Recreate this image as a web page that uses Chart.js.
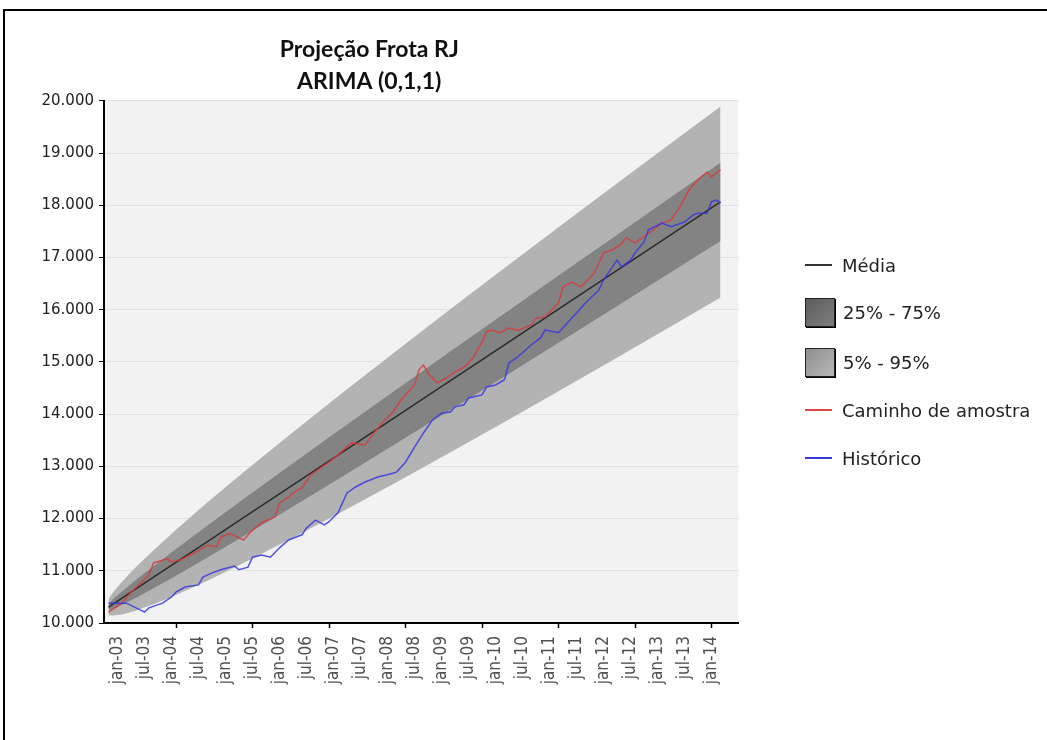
<!DOCTYPE html>
<html lang="pt-BR">
<head>
<meta charset="utf-8">
<title>Projeção Frota RJ</title>
<script src="https://cdn.jsdelivr.net/npm/chart.js@4.4.1/dist/chart.umd.min.js"></script>
<style>
  html, body { margin: 0; padding: 0; background: #fff; }
  body { width: 1047px; height: 740px; position: relative; overflow: hidden; }
  #frame { position: absolute; left: 3px; top: 9px; width: 1100px; height: 800px; border: 2px solid #000; }
  #chart { position: absolute; left: 0; top: 0; }
  #legend { position: absolute; left: 805px; top: 0; font-family: "DejaVu Sans", Verdana, sans-serif; font-size: 18px; color: #222; }
  .item { position: absolute; left: 0; height: 30px; display: flex; align-items: center; white-space: nowrap; }
  .mark-line { width: 27px; height: 2px; margin-right: 10px; }
  .mark-box { width: 28px; height: 27px; border: 1px solid #222; box-shadow: 1px 1px 0 #000; margin-right: 8px; }
</style>
</head>
<body>
<div id="frame"></div>
<canvas id="chart" width="806" height="740"></canvas>
<div id="legend"></div>

<script>
// months are counted from oct-02 (0 = oct-02, 3 = jan-03, 135 = jan-14)
const tickLabels = ["jan-03", "jul-03", "jan-04", "jul-04", "jan-05", "jul-05", "jan-06", "jul-06",
  "jan-07", "jul-07", "jan-08", "jul-08", "jan-09", "jul-09", "jan-10", "jul-10",
  "jan-11", "jul-11", "jan-12", "jul-12", "jan-13", "jul-13", "jan-14"];
const tickMarkMonths = [16, 33, 50, 67, 84, 101, 118, 135];

// forecast fan (percentiles)
const fanMonths = [1, 2, 4, 7, 11, 16, 23, 31, 41, 53, 65, 77, 89, 101, 113, 125, 137];
const mean = [10306, 10363, 10477, 10648, 10877, 11162, 11561, 12018, 12588, 13273, 13957, 14642, 15326, 16011, 16695, 17380, 18065];
const p25 = [10242, 10273, 10349, 10479, 10665, 10906, 11254, 11661, 12178, 12807, 13441, 14080, 14722, 15367, 16014, 16664, 17315];
const p75 = [10370, 10453, 10605, 10817, 11089, 11418, 11868, 12375, 12998, 13739, 14473, 15204, 15930, 16655, 17376, 18096, 18815];
const p05 = [10150, 10142, 10164, 10234, 10359, 10537, 10811, 11148, 11588, 12135, 12697, 13270, 13852, 14440, 15034, 15633, 16236];
const p95 = [10462, 10584, 10790, 11062, 11395, 11787, 12311, 12888, 13588, 14411, 15217, 16014, 16800, 17582, 18356, 19127, 19894];

// sample path (red)
const pathMonths = [1, 4, 6, 10, 11, 14, 15, 17, 20, 23, 25, 26, 28, 30, 31, 33, 35, 38, 39, 41, 42, 44, 46, 50,
  52, 55, 58, 60, 62, 64, 66, 69, 70, 71, 72, 74, 76, 78, 80, 82, 84, 85, 86, 88, 90, 92, 95, 96, 98,
  101, 102, 104, 106, 109, 111, 113, 115, 116, 118, 120, 122, 124, 126, 128, 130, 132, 134, 135, 136, 137];
const pathValues = [10210, 10380, 10590, 10920, 11150, 11230, 11170, 11210, 11340, 11490, 11460, 11650, 11720, 11630, 11590, 11780, 11920, 12030, 12300, 12410, 12490, 12590, 12840, 13080,
  13220, 13450, 13410, 13640, 13850, 14020, 14270, 14560, 14850, 14940, 14790, 14600, 14690, 14810, 14900, 15080, 15380, 15580, 15610, 15560, 15650, 15610, 15710, 15840, 15860,
  16130, 16440, 16530, 16440, 16710, 17090, 17150, 17260, 17380, 17280, 17400, 17530, 17660, 17720, 17970, 18300, 18490, 18640, 18540, 18620, 18680];

// historical (blue)
const histMonths = [1, 5, 8, 9, 10, 13, 15, 16, 18, 21, 22, 24, 26, 29, 30, 32, 33, 35, 37, 39, 41, 44, 45, 47, 49, 50,
  52, 54, 56, 58, 61, 63, 65, 67, 69, 71, 73, 75, 77, 78, 80, 81, 84, 85, 87, 89, 90, 92, 95, 97, 98,
  101, 103, 105, 107, 110, 111, 114, 115, 117, 118, 120, 121, 124, 126, 129, 131, 132, 134, 135, 136, 137];
const histValues = [10380, 10380, 10250, 10210, 10290, 10380, 10500, 10590, 10690, 10730, 10880, 10960, 11020, 11090, 11020, 11070, 11260, 11300, 11260, 11440, 11590, 11690, 11820, 11970, 11880, 11940,
  12110, 12490, 12610, 12700, 12800, 12840, 12890, 13080, 13370, 13640, 13890, 14020, 14040, 14140, 14180, 14310, 14370, 14520, 14560, 14660, 14980, 15100, 15330, 15460, 15610,
  15560, 15750, 15940, 16130, 16380, 16570, 16950, 16820, 16950, 17090, 17300, 17530, 17660, 17590, 17680, 17820, 17850, 17850, 18070, 18100, 18050];

const legendNames = ["Média", "25% - 75%", "5% - 95%", "Caminho de amostra", "Histórico"];

function toPoints(xs, ys) {
  return xs.map((x, i) => ({ x: x, y: ys[i] }));
}

function formatThousands(v) {
  return String(v).replace(/\B(?=(\d{3})+(?!\d))/g, ".");
}

// light grey plot area like the original
const plotBackground = {
  id: "plotBackground",
  beforeDraw(chart) {
    const { ctx, chartArea } = chart;
    ctx.save();
    ctx.fillStyle = "#f2f2f2";
    ctx.fillRect(chartArea.left, chartArea.top, chartArea.right - chartArea.left, chartArea.bottom - chartArea.top);
    ctx.restore();
  }
};

function buildLegend() {
  const target = document.querySelector("#legend");
  const centers = [265, 312, 362, 410, 458];
  const marks = [
    '<span class="mark-line" style="background:#333"></span>',
    '<span class="mark-box" style="background:linear-gradient(135deg,#5c5c5c,#7e7e7e)"></span>',
    '<span class="mark-box" style="background:linear-gradient(135deg,#8e8e8e,#b8b8b8)"></span>',
    '<span class="mark-line" style="background:#e04848"></span>',
    '<span class="mark-line" style="background:#3838e0"></span>'
  ];
  target.innerHTML = "";
  legendNames.forEach((name, i) => {
    target.innerHTML += `<div class="item" style="top:${centers[i] - 15}px">${marks[i]}<span>${name}</span></div>`;
  });
}

function initChart() {
  const ctx = document.querySelector("#chart");
  const config = {
    type: "line",
    data: {
      datasets: [
        { label: "Histórico", data: toPoints(histMonths, histValues), borderColor: "rgba(55,55,225,0.85)", borderWidth: 1.5, pointRadius: 0, fill: false },
        { label: "Caminho de amostra", data: toPoints(pathMonths, pathValues), borderColor: "rgba(215,60,60,0.85)", borderWidth: 1.5, pointRadius: 0, fill: false },
        { label: "Média", data: toPoints(fanMonths, mean), borderColor: "#2b2b2b", borderWidth: 1.5, pointRadius: 0, fill: false },
        { label: "75%", data: toPoints(fanMonths, p75), borderColor: "transparent", borderWidth: 0, pointRadius: 0, fill: 4, backgroundColor: "#838383" },
        { label: "25%", data: toPoints(fanMonths, p25), borderColor: "transparent", borderWidth: 0, pointRadius: 0, fill: false },
        { label: "95%", data: toPoints(fanMonths, p95), borderColor: "transparent", borderWidth: 0, pointRadius: 0, fill: 6, backgroundColor: "#b3b3b3" },
        { label: "5%", data: toPoints(fanMonths, p05), borderColor: "transparent", borderWidth: 0, pointRadius: 0, fill: false }
      ]
    },
    options: {
      responsive: false,
      animation: false,
      layout: { padding: { left: 0, right: 67.5, top: 0, bottom: 0 } },
      plugins: {
        legend: { display: false },
        tooltip: { enabled: false },
        title: {
          display: true,
          text: ["Projeção Frota RJ", "ARIMA (0,1,1)"],
          color: "#111",
          font: { family: "Lato", size: 23, weight: "bold", lineHeight: 1.39 },
          padding: { top: 33.5, bottom: 3.5 }
        }
      },
      scales: {
        x: {
          type: "linear",
          min: 0,
          max: 141,
          afterBuildTicks(scale) {
            const ticks = [];
            for (let m = 0; m <= 141; m++) ticks.push({ value: m });
            scale.ticks = ticks;
          },
          afterFit(scale) { scale.height = 117; },
          border: { color: "#000", width: 2 },
          grid: {
            drawOnChartArea: false,
            tickLength: 5,
            tickWidth: 1.5,
            tickColor: (c) => (c.tick && tickMarkMonths.includes(c.tick.value) ? "#000" : "rgba(0,0,0,0)")
          },
          ticks: {
            autoSkip: false,
            minRotation: 90,
            maxRotation: 90,
            padding: 8,
            color: "#505050",
            font: { family: "'DejaVu Sans Condensed', 'Liberation Sans Narrow', sans-serif", size: 17 },
            callback: (value) => {
              const k = (value - 3) / 6;
              return Number.isInteger(k) && k >= 0 && k < tickLabels.length ? tickLabels[k] : "";
            }
          }
        },
        y: {
          min: 10000,
          max: 20000,
          afterFit(scale) { scale.width = 104; },
          border: { color: "#000", width: 2 },
          grid: { color: "#e2e2e2", tickColor: "#000", tickLength: 5 },
          ticks: {
            stepSize: 1000,
            padding: 5,
            color: "#222",
            font: { family: "'DejaVu Sans', Verdana, sans-serif", size: 15 },
            callback: (value) => formatThousands(value)
          }
        }
      }
    },
    plugins: [plotBackground]
  };
  return new Chart(ctx, config);
}

document.addEventListener("DOMContentLoaded", () => {
  buildLegend();
  initChart();
});
</script>
</body>
</html>
